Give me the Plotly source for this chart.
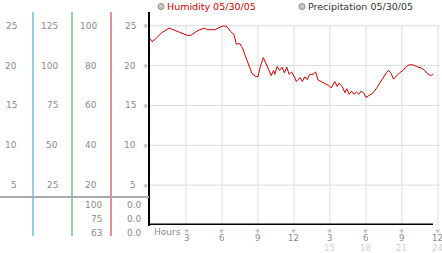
import plotly.graph_objects as go

# ---- data ----
hours = [0, 0.17, 0.5, 0.95, 1.6, 2.3, 3.1, 3.4, 4.0, 4.5, 4.8, 5.4, 5.7, 6.1, 6.4, 6.7, 7.0, 7.2, 7.5, 7.7,
         7.9, 8.2, 8.5, 8.75, 9.0, 9.2, 9.45, 9.6, 9.9, 10.1, 10.3, 10.4, 10.6, 10.8, 11.0, 11.2, 11.4, 11.6,
         11.8, 12.0, 12.2, 12.5, 12.7, 12.9, 13.1, 13.3, 13.6, 13.8, 14.0, 14.3, 14.6, 14.9, 15.1, 15.4, 15.6,
         15.75, 16.0, 16.25, 16.4, 16.6, 16.8, 17.0, 17.2, 17.4, 17.6, 17.8, 18.0, 18.3, 18.6, 18.9, 19.2,
         19.4, 19.7, 19.9, 20.1, 20.3, 20.6, 20.8, 21.1, 21.3, 21.6, 21.9, 22.2, 22.6, 22.9, 23.1, 23.4, 23.6]
humidity = [23.4, 23.0, 23.4, 24.1, 24.7, 24.25, 23.8, 23.8, 24.4, 24.7, 24.5, 24.5, 24.75, 25.0, 24.9, 24.3,
            23.9, 22.7, 22.75, 22.25, 21.4, 20.3, 19.0, 18.7, 18.6, 19.9, 21.0, 20.5, 19.5, 18.75, 19.4, 18.9,
            19.9, 19.4, 19.8, 19.1, 19.8, 18.9, 19.2, 18.7, 18.0, 18.5, 18.0, 18.6, 18.25, 18.9, 18.9, 19.2,
            18.2, 18.0, 17.8, 17.5, 17.2, 18.0, 17.4, 17.8, 17.4, 16.6, 17.1, 16.4, 16.8, 16.4, 16.7, 16.4,
            16.8, 16.6, 16.0, 16.25, 16.6, 17.2, 17.9, 18.5, 19.1, 19.4, 19.0, 18.3, 18.75, 19.1, 19.4, 19.8,
            20.1, 20.1, 19.9, 19.7, 19.4, 19.0, 18.75, 18.9]

y_ticks = [5, 10, 15, 20, 25]
col1_labels = ["5", "10", "15", "20", "25"]
col2_labels = ["25", "50", "75", "100", "125"]
col3_labels = ["20", "40", "60", "80", "100"]
col4_labels = ["5", "10", "15", "20", "25"]
bottom_col3 = ["100", "75", "63"]
bottom_col4 = ["0.0", "0.0", "0.0"]
x_ticks = [3, 6, 9, 12, 15, 18, 21, 24]
x_labels = ["3", "6", "9", "12", "3", "6", "9", "12"]
x_labels2 = ["", "", "", "", "15", "18", "21", "24"]

W, H = 442, 253
FONT = "DejaVu Sans"
GRAY = "#8a8a8a"
XMAX = 24.17
YMAX = 26.6


def px(x):
    return x / W


def py(y):
    return (H - y) / H


fig = go.Figure()
fig.add_trace(go.Scatter(x=hours, y=humidity, mode="lines",
                         line=dict(color="#cc0000", width=1), hoverinfo="skip"))

shapes = []
# grid
for v in y_ticks:
    shapes.append(dict(type="line", xref="x", yref="y", x0=0, x1=XMAX, y0=v, y1=v,
                       line=dict(color="#dadada", width=1), layer="below"))
for h in x_ticks:
    shapes.append(dict(type="line", xref="x", yref="y", x0=h, x1=h, y0=0, y1=25,
                       line=dict(color="#dadada", width=1), layer="below"))
# axis lines
shapes.append(dict(type="line", xref="paper", yref="paper", x0=px(149), x1=px(149), y0=py(12), y1=py(226),
                   line=dict(color="black", width=2)))
shapes.append(dict(type="line", xref="paper", yref="y", x0=px(148), x1=px(433), y0=0, y1=0,
                   line=dict(color="black", width=3)))
# left coloured dividers
for xx, c in [(33, "#2b9ad0"), (72, "#2ea043"), (111, "#c0282d")]:
    shapes.append(dict(type="line", xref="paper", yref="paper", x0=px(xx), x1=px(xx), y0=py(12), y1=py(236),
                       line=dict(color=c, width=1)))
shapes.append(dict(type="line", xref="paper", yref="paper", x0=0, x1=px(149), y0=py(197), y1=py(197),
                   line=dict(color="#aaaaaa", width=2)))
# legend circles
for cx in [161, 302]:
    shapes.append(dict(type="circle", xref="paper", yref="paper", x0=px(cx - 3), x1=px(cx + 3),
                       y0=py(9.5), y1=py(3.5), fillcolor="#c8c8c8", line=dict(color="#8a8a8a", width=1)))

ann = []
f = dict(family=FONT, size=9, color=GRAY)
for v, a, b, c, d in zip(y_ticks, col1_labels, col2_labels, col3_labels, col4_labels):
    for xr, t in [(19, a), (60, b), (99, c), (138, d)]:
        ann.append(dict(x=px(xr), y=v, xref="paper", yref="y", text=t, showarrow=False,
                        xanchor="right", yanchor="middle", font=f))
    ann.append(dict(x=px(145), y=v, xref="paper", yref="y", text="※", showarrow=False,
                    xanchor="center", yanchor="middle", font=dict(family=FONT, size=6, color="#999999")))
for yy, a, b in zip([205, 219, 233], bottom_col3, bottom_col4):
    ann.append(dict(x=px(104), y=py(yy), xref="paper", yref="paper", text=a, showarrow=False,
                    xanchor="right", yanchor="middle", font=f))
    ann.append(dict(x=px(144), y=py(yy), xref="paper", yref="paper", text=b, showarrow=False,
                    xanchor="right", yanchor="middle", font=f))
for h, t, t2 in zip(x_ticks, x_labels, x_labels2):
    ann.append(dict(x=h, y=py(230), xref="x", yref="paper", text="※", showarrow=False,
                    xanchor="center", yanchor="middle", font=dict(family=FONT, size=6, color="#999999")))
    ann.append(dict(x=h, y=py(237.5), xref="x", yref="paper", text=t, showarrow=False,
                    xanchor="center", yanchor="middle", font=dict(family=FONT, size=8.5, color=GRAY)))
    if t2:
        ann.append(dict(x=h, y=py(248), xref="x", yref="paper", text=t2, showarrow=False,
                        xanchor="center", yanchor="middle", font=dict(family=FONT, size=8.5, color="#d0d0d0")))
ann.append(dict(x=px(152), y=py(232), xref="paper", yref="paper", text="Hours", showarrow=False,
                xanchor="left", yanchor="middle", font=f))
ann.append(dict(x=px(165), y=py(6.5), xref="paper", yref="paper", text="Humidity 05/30/05", showarrow=False,
                xanchor="left", yanchor="middle", font=dict(family=FONT, size=9.5, color="#cc0000")))
ann.append(dict(x=px(306), y=py(6.5), xref="paper", yref="paper", text="Precipitation 05/30/05",
                showarrow=False, xanchor="left", yanchor="middle",
                font=dict(family=FONT, size=9.5, color="#333333")))

fig.update_layout(
    width=W, height=H, margin=dict(l=0, r=0, t=0, b=0),
    paper_bgcolor="white", plot_bgcolor="white", showlegend=False,
    xaxis=dict(domain=[px(150), px(440)], range=[0, XMAX], showgrid=False, zeroline=False,
               showticklabels=False, showline=False, fixedrange=True),
    yaxis=dict(domain=[py(225), py(13)], range=[0, YMAX], showgrid=False, zeroline=False,
               showticklabels=False, showline=False, fixedrange=True),
    shapes=shapes, annotations=ann,
)

fig.write_html("out.html")
